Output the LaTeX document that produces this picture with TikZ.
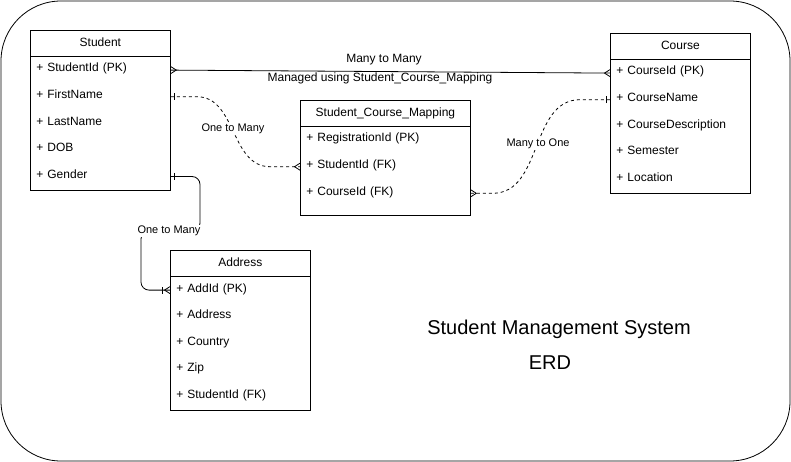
\documentclass[tikz,border=0pt]{standalone}
\usepackage{fontspec}
\setmainfont{Liberation Sans}
\newcommand\myfs[1]{\fontsize{#1}{#1}\selectfont}
\begin{document}
\begin{tikzpicture}[x=1pt,y=-1pt, line width=0.8pt,
  ent/.style={draw, anchor=north west, inner sep=0},
  hdr/.style={anchor=north west, minimum height=26pt, inner sep=0, text height=8.8pt, text depth=2.2pt, font=\myfs{12}},
  row/.style={anchor=north west, minimum height=25.8pt, inner ysep=0, inner xsep=6pt, text height=7.4pt, text depth=3.6pt, align=left, font=\myfs{12}},
  lbl/.style={font=\myfs{11}, fill=white, inner sep=1pt, text height=8pt, text depth=2.2pt},
  elbl/.style={font=\myfs{12}, inner sep=1pt, text height=8.6pt, text depth=2.4pt},
  dsh/.style={dash pattern=on 3pt off 3pt},
  crow/.pic={\draw[solid] (0,-3.5) -- (5.5,0) -- (0,3.5);},
  tick/.pic={\draw[solid] (4,-3.5) -- (4,3.5);},
  tickfar/.pic={\draw[solid] (7.5,-3.5) -- (7.5,3.5);},
]
\useasboundingbox (0,0) rectangle (791,462);
\draw[rounded corners=60pt] (1,1) rectangle (790,461);

% Student
\node[ent, minimum width=140pt, minimum height=160pt] (stbox) at (30,30) {};
\node[hdr, minimum width=140pt] (st) at (30,30) {Student};
\draw (st.south west) -- (st.south east);
\node[row, text width=128pt] (st1) at (st.south west) {+ StudentId (PK)};
\node[row, text width=128pt] (st2) at (st1.south west) {+ FirstName};
\node[row, text width=128pt] (st3) at (st2.south west) {+ LastName};
\node[row, text width=128pt] (st4) at (st3.south west) {+ DOB};
\node[row, text width=128pt] (st5) at (st4.south west) {+ Gender};

% Course
\node[ent, minimum width=140pt, minimum height=160pt] (cobox) at (610,33) {};
\node[hdr, minimum width=140pt] (co) at (610,33) {Course};
\draw (co.south west) -- (co.south east);
\node[row, text width=128pt] (co1) at (co.south west) {+ CourseId (PK)};
\node[row, text width=128pt] (co2) at (co1.south west) {+ CourseName};
\node[row, text width=128pt] (co3) at (co2.south west) {+ CourseDescription};
\node[row, text width=128pt] (co4) at (co3.south west) {+ Semester};
\node[row, text width=128pt] (co5) at (co4.south west) {+ Location};

% Mapping
\node[ent, minimum width=170pt, minimum height=115pt] (mpbox) at (300,100) {};
\node[hdr, minimum width=170pt] (mp) at (300,100) {Student\_Course\_Mapping};
\draw (mp.south west) -- (mp.south east);
\node[row, text width=158pt] (mp1) at (mp.south west) {+ RegistrationId (PK)};
\node[row, text width=158pt] (mp2) at (mp1.south west) {+ StudentId (FK)};
\node[row, text width=158pt] (mp3) at (mp2.south west) {+ CourseId (FK)};

% Address
\node[ent, minimum width=140pt, minimum height=160pt] (adbox) at (170,250) {};
\node[hdr, minimum width=140pt] (ad) at (170,250) {Address};
\draw (ad.south west) -- (ad.south east);
\node[row, text width=128pt] (ad1) at (ad.south west) {+ AddId (PK)};
\node[row, text width=128pt] (ad2) at (ad1.south west) {+ Address};
\node[row, text width=128pt] (ad3) at (ad2.south west) {+ Country};
\node[row, text width=128pt] (ad4) at (ad3.south west) {+ Zip};
\node[row, text width=128pt] (ad5) at (ad4.south west) {+ StudentId (FK)};

% Many to Many
\draw (st1.east) -- (co1.west);
\pic at (st1.east) {crow};
\pic[rotate=180] at (co1.west) {crow};
\node[elbl] (l1) at (384,59) {Many to Many};
\node[elbl] (l2) at (380,78) {Managed using Student\_Course\_Mapping};

% Student -> Mapping
\draw[dsh] (st2.east) -- ++(26,0) to[out=0,in=180] ([xshift=-30pt]mp2.west) -- (mp2.west);
\pic at (st2.east) {tick};
\pic[rotate=180] at (mp2.west) {crow};
\node[lbl] (l3) at (233,129) {One to Many};

% Mapping -> Course
\draw[dsh] (mp3.east) -- ++(22,0) to[out=0,in=180] ([xshift=-30pt]co2.west) -- (co2.west);
\pic at (mp3.east) {crow};
\pic[rotate=180] at (co2.west) {tick};
\node[lbl] (l4) at (538,144) {Many to One};

% Student -> Address
\coordinate (kA) at (200,231);
\coordinate (kB) at (141,231);
\draw[rounded corners=8pt] (st5.east) -| (kA) -- (kB) |- (ad1.west);
\pic at (st5.east) {tick};
\pic[rotate=180] at (ad1.west) {crow};
\pic[rotate=180] at (ad1.west) {tickfar};
\node[lbl] (l5) at (169,231) {One to Many};

% Title
\node[font=\myfs{20}] (t1) at (559,329) {Student Management System};
\node[font=\myfs{20}] (t2) at (550,363) {ERD};
\end{tikzpicture}
\end{document}
